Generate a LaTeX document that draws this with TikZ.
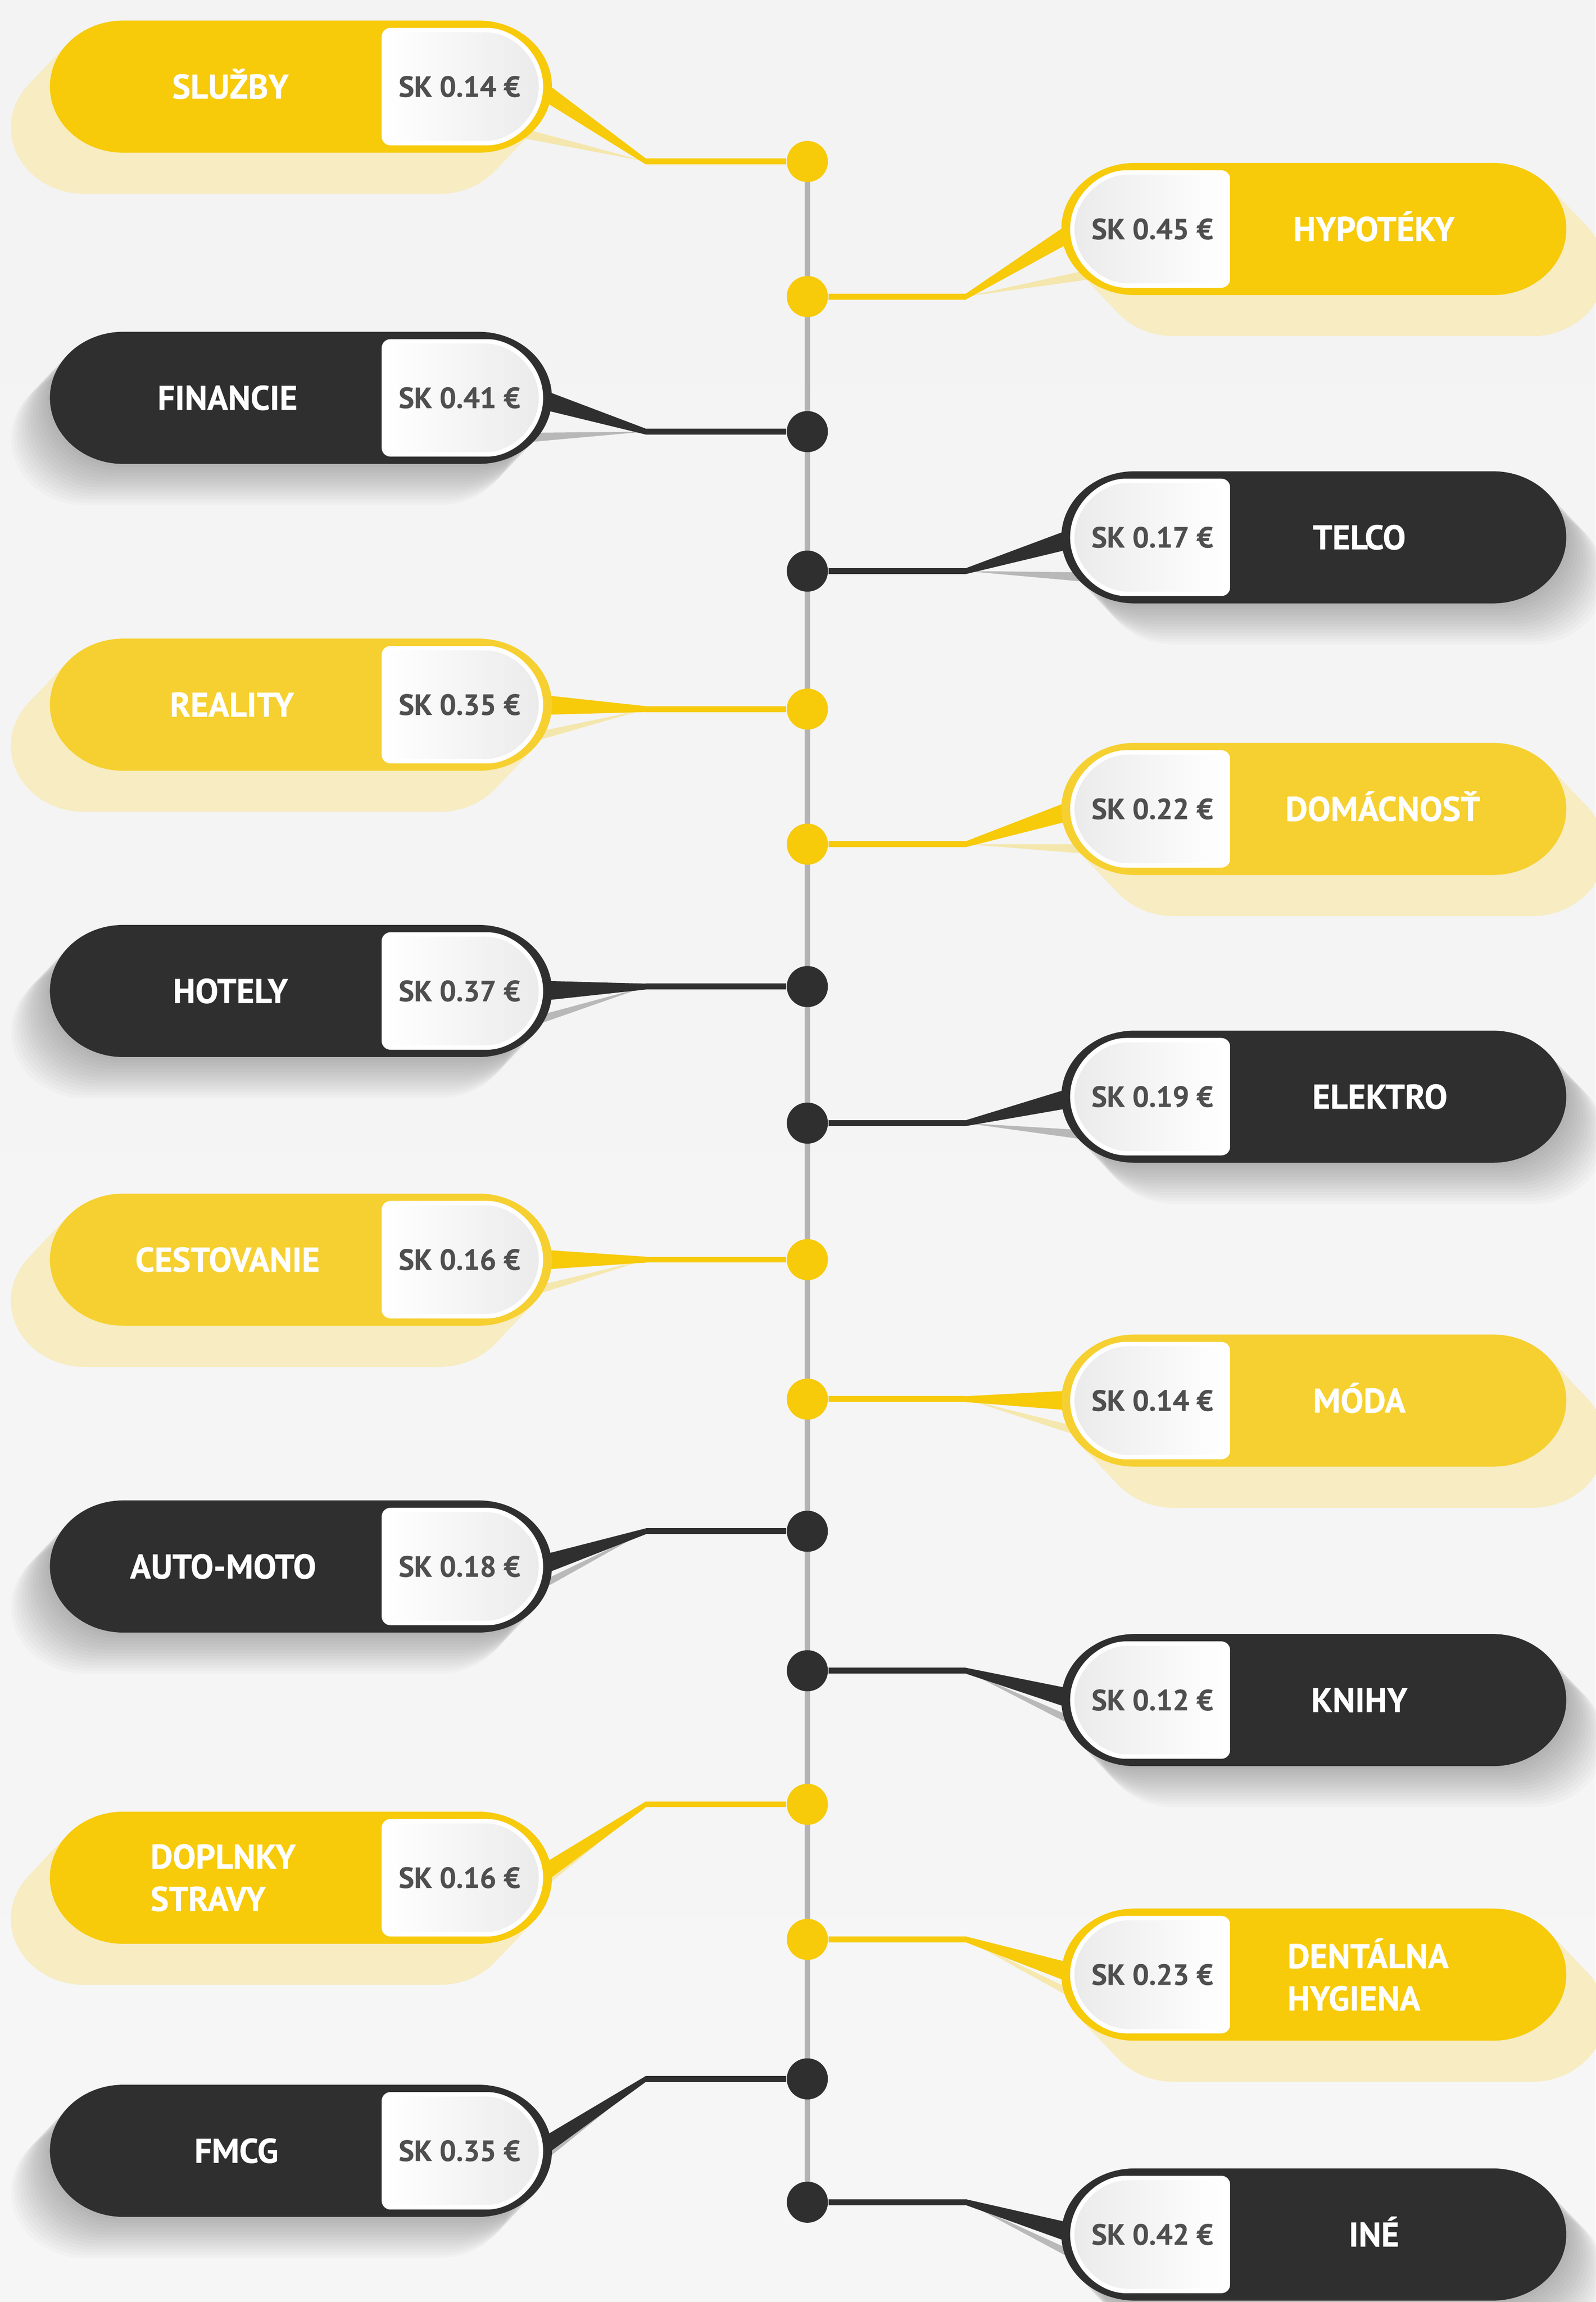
\documentclass[tikz,border=0pt]{standalone}
\usepackage{fontspec}
\setmainfont{PT Sans}[BoldFeatures={FakeBold=0.6}]
\usetikzlibrary{calc}
\definecolor{ya}{HTML}{F7CA0A}
\definecolor{yb}{HTML}{F6D030}
\definecolor{dk}{HTML}{2F2F2F}
\definecolor{yshadow}{HTML}{F7ECC2}
\definecolor{pricegray}{HTML}{4F4F4F}
\definecolor{spinegray}{HTML}{B3B3B3}
\definecolor{boxgray}{HTML}{EBEBEB}
\definecolor{bgtop}{HTML}{F3F3F3}
\definecolor{bgbot}{HTML}{F6F6F6}
\tikzstyle{spine}=[draw=spinegray, line width=2.05pt]
\tikzstyle{link}=[line width=2.3pt]
\tikzstyle{dot}=[circle, fill, inner sep=0pt, minimum size=0.56cm]
\tikzstyle{tag}=[text=white, align=left, inner sep=0pt,
        font=\bfseries\fontsize{13.3}{16.4}\selectfont]
\tikzstyle{one}=[text height=9.3pt, text depth=0pt]
\tikzstyle{two}=[]
\tikzstyle{price}=[text=pricegray, inner sep=0pt, text height=7.9pt, text depth=0pt,
        font=\bfseries\fontsize{11.3}{13}\selectfont]
\tikzstyle{shd ya}=[fill=yshadow]
\tikzstyle{shd yb}=[fill=yshadow]
\tikzstyle{shd dk}=[fill=black, fill opacity=0.02]
\tikzstyle{ln ya}=[ya]
\tikzstyle{ln yb}=[ya]
\tikzstyle{ln dk}=[dk]
% pill outlines, #1 = centre line
\newcommand{\leftpill}[1]{(84,#1-45) -- (326,#1-45)
        arc[start angle=-90, end angle=90, x radius=50, y radius=45]
        -- (84,#1+45) arc[start angle=90, end angle=270, x radius=50, y radius=45] -- cycle}
\newcommand{\rightpill}[1]{(773,#1-45) -- (1017,#1-45)
        arc[start angle=-90, end angle=90, x radius=50, y radius=45]
        -- (773,#1+45) arc[start angle=90, end angle=270, x radius=50, y radius=45] -- cycle}

\begin{document}
\begin{tikzpicture}[x=0.02cm, y=-0.02cm]
                        \shade[top color=bgtop, bottom color=bgbot] (0,0) rectangle (1087,1568);
                        \useasboundingbox (0,0) rectangle (1087,1568);

                        \coordinate (top) at (550,110);
                        \coordinate (bottom) at (550,1500);
                        \draw[spine] (top) -- (bottom);

                        % left column
                        \foreach \lx/\cy/\dy/\lab/\lines/\price/\kind [count=\n] in {
                            157/59/110/SLUŽBY/one/0.14/ya,
                            155/271/294/FINANCIE/one/0.41/dk,
                            158/480/483/REALITY/one/0.35/yb,
                            157/675/672/HOTELY/one/0.37/dk,
                            155/858/858/CESTOVANIE/one/0.16/yb,
                            152/1067/1043/AUTO-MOTO/one/0.18/dk,
                            152/1279/1229/{DOPLNKY\\STRAVY}/two/0.16/ya,
                            161/1465/1416/FMCG/one/0.35/dk} {
                            \foreach \s in {1,...,14} {
                                \fill[shd \kind, shift={(-1.9*\s,2*\s)}] \leftpill{\cy};
                            }
                            \coordinate (le\n) at (366,\cy);
                            \coordinate (lb\n) at (440,\dy);
                            \node[dot, ln \kind] (ld\n) at (550,\dy) {};
                            \fill[ln \kind, opacity=0.3] (lb\n) -- ($(le\n)+(-26,24)$) -- ($(le\n)+(-26,32)$) -- cycle;
                            \fill[ln \kind] ($(le\n)+(0,-7)$) -- ($(lb\n)+(0,-2)$) -- ($(lb\n)+(0,2)$) -- ($(le\n)+(0,7)$) -- cycle;
                            \draw[link, ln \kind] (lb\n) -- (ld\n);
                            \fill[\kind] \leftpill{\cy};
                            \fill[white, rounded corners=0.12cm] (326,\cy-40)
                                arc[start angle=-90, end angle=90, x radius=44, y radius=40]
                                -- (260,\cy+40) -- (260,\cy-40) -- cycle;
                            \shade[left color=white, right color=boxgray, rounded corners=0.1cm] (326,\cy-37)
                                arc[start angle=-90, end angle=90, x radius=41, y radius=37]
                                -- (263,\cy+37) -- (263,\cy-37) -- cycle;
                            \node[tag, \lines] (lt\n) at (\lx,\cy) {\lab};
                            \node[price] (lp\n) at (313,\cy) {SK \price\ €};
                        }

                        % right column
                        \foreach \lx/\cy/\dy/\lab/\lines/\price/\kind [count=\n] in {
                            936/156/202/HYPOTÉKY/one/0.45/ya,
                            926/366/389/TELCO/one/0.17/dk,
                            942/551/575/DOMÁCNOSŤ/one/0.22/yb,
                            940/747/765/ELEKTRO/one/0.19/dk,
                            926/954/953/MÓDA/one/0.14/yb,
                            926/1158/1138/KNIHY/one/0.12/dk,
                            932/1345/1321/{DENTÁLNA\\HYGIENA}/two/0.23/ya,
                            936/1522/1500/INÉ/one/0.42/dk} {
                            \foreach \s in {1,...,14} {
                                \fill[shd \kind, shift={(1.9*\s,2*\s)}] \rightpill{\cy};
                            }
                            \coordinate (re\n) at (733,\cy);
                            \coordinate (rb\n) at (658,\dy);
                            \node[dot, ln \kind] (rd\n) at (550,\dy) {};
                            \fill[ln \kind, opacity=0.3] (rb\n) -- ($(re\n)+(26,24)$) -- ($(re\n)+(26,32)$) -- cycle;
                            \fill[ln \kind] ($(rb\n)+(0,-2)$) -- ($(re\n)+(0,-7)$) -- ($(re\n)+(0,7)$) -- ($(rb\n)+(0,2)$) -- cycle;
                            \draw[link, ln \kind] (rb\n) -- (rd\n);
                            \fill[\kind] \rightpill{\cy};
                            \fill[white, rounded corners=0.12cm] (773,\cy+40)
                                arc[start angle=90, end angle=270, x radius=44, y radius=40]
                                -- (838,\cy-40) -- (838,\cy+40) -- cycle;
                            \shade[left color=boxgray, right color=white, rounded corners=0.1cm] (773,\cy+37)
                                arc[start angle=90, end angle=270, x radius=41, y radius=37]
                                -- (835,\cy-37) -- (835,\cy+37) -- cycle;
                            \node[tag, \lines] (rt\n) at (\lx,\cy) {\lab};
                            \node[price] (rp\n) at (785,\cy) {SK \price\ €};
                        }
                    \end{tikzpicture}
\end{document}
